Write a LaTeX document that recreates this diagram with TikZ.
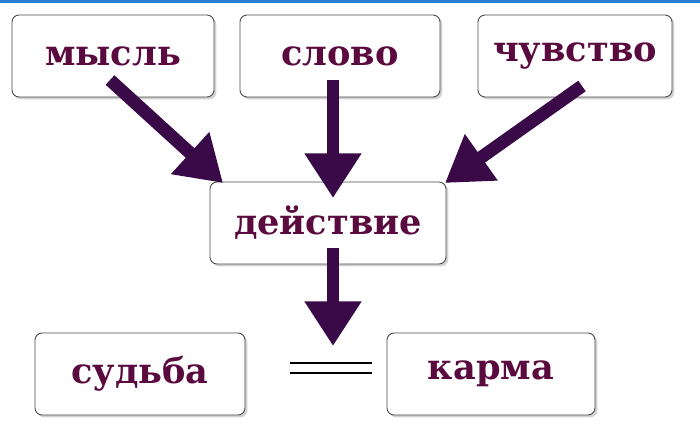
\documentclass[tikz,border=0pt]{standalone}
\usepackage{fontspec}
\setmainfont{DejaVu Serif}
\usetikzlibrary{arrows.meta,shadows}
\definecolor{wordcol}{HTML}{5A0A3E}
\definecolor{arrowcol}{HTML}{3A0A48}
\definecolor{topline}{HTML}{2A7FD4}
\tikzset{
  wordbox/.style={draw=black!70,line width=0.8pt,rounded corners=6pt,fill=white,
    drop shadow={opacity=0.35,shadow xshift=2pt,shadow yshift=-2pt},
    minimum height=2.46cm,text=wordcol,font=\fontsize{30}{30}\bfseries},
  bigarrow/.style={draw=arrowcol,line width=11pt,
    -{Triangle[length=38pt,width=46pt,fill=arrowcol]}}
}
\begin{document}
\begin{tikzpicture}[x=0.03cm,y=-0.03cm]
\useasboundingbox[fill=white] (0,0) rectangle (700,428);
\fill[topline] (0,0) rectangle (700,3);
\node[wordbox,minimum width=6.06cm] (mysl) at (113,56) {мысль};
\node[wordbox,minimum width=6.0cm] (slovo) at (340,56) {слово};
\node[wordbox,minimum width=5.82cm] (chuvstvo) at (575,56) {чувство};
\node[wordbox,minimum width=7.08cm] (deistvie) at (328,223) {действие};
\node[wordbox,minimum width=6.3cm] (sudba) at (140,374) {судьба};
\node[wordbox,minimum width=6.24cm] (karma) at (491,374) {карма};
% arrows
\coordinate (a1) at (110,80);
\coordinate (a2) at (333,80);
\coordinate (a3) at (582,86);
\coordinate (a4) at (333,248);
\draw[bigarrow] (a1) -- (223,183);
\draw[bigarrow] (a2) -- (333,198);
\draw[bigarrow] (a3) -- (445,183);
\draw[bigarrow] (a4) -- (333,346);
% equals
\draw[line width=1.5pt] (290,363) -- (372,363);
\draw[line width=1.5pt] (290,373) -- (372,373);
\end{tikzpicture}
\end{document}
